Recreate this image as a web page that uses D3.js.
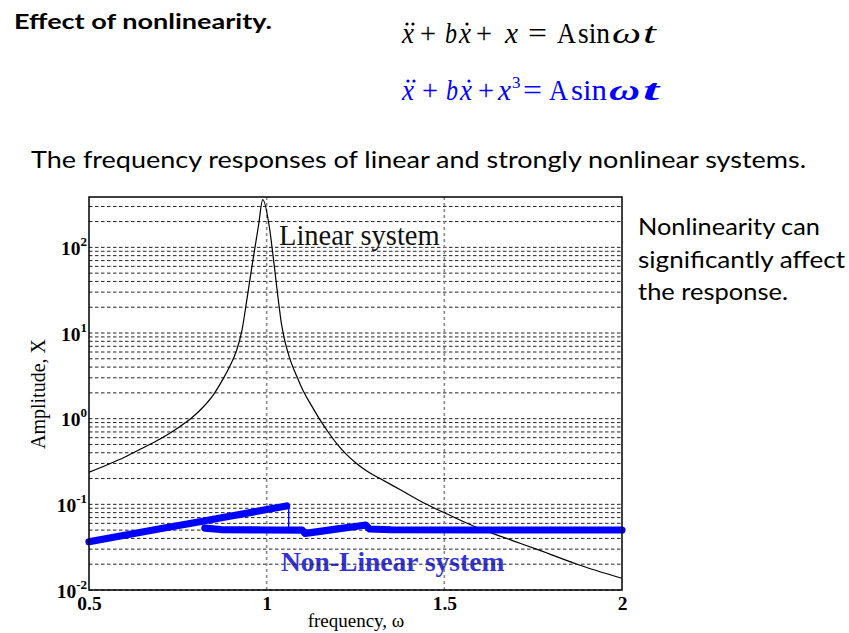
<!DOCTYPE html>
<html>
<head>
<meta charset="utf-8">
<script src="https://cdn.jsdelivr.net/npm/d3@7"></script>
<style>
  html, body { margin: 0; padding: 0; background: #fff; }
  svg { display: block; }
</style>
</head>
<body>
<svg id="chart" width="849" height="633"></svg>
<script>
// ---------------- data ----------------
const xTickValues = [0.5, 1, 1.5, 2];
const xTickLabels = ["0.5", "1", "1.5", "2"];
const yTickValues = [0.01, 0.1, 1, 10, 100];
const yTickExponents = ["-2", "-1", "0", "1", "2"];

// linear system response (frequency, amplitude)
const linW = [0.50, 0.55, 0.60, 0.65, 0.70, 0.75, 0.79, 0.82, 0.85, 0.875, 0.90, 0.915, 0.93, 0.944, 0.958, 0.977, 0.989,
              1.008, 1.020, 1.031, 1.042, 1.050, 1.064, 1.085, 1.103, 1.125, 1.148, 1.175, 1.199, 1.225, 1.253, 1.285,
              1.319, 1.38, 1.45, 1.52, 1.60, 1.69, 1.769, 1.873, 2.0];
const linX = [0.237, 0.288, 0.355, 0.452, 0.58, 0.78, 1.03, 1.35, 1.9, 2.8, 4.4, 6.2, 10.5, 24, 58, 180, 360,
              168, 68, 28, 12.5, 8.5, 5.2, 3.1, 2.1, 1.45, 1.0, 0.68, 0.50, 0.38, 0.30, 0.24,
              0.20, 0.145, 0.10, 0.073, 0.052, 0.038, 0.029, 0.020, 0.0137];

// nonlinear system: upper branch, jump, lower branch
const nlUpW = [0.5, 0.6, 0.7, 0.8, 0.9, 1.0, 1.056];
const nlUpX = [0.0366, 0.0436, 0.0518, 0.0615, 0.073, 0.0869, 0.0957];
const nlJumpW = [1.062, 1.062];
const nlJumpX = [0.0957, 0.0502];
const nlLowW = [0.826, 0.87, 1.0, 1.10, 1.108, 1.15, 1.20, 1.25, 1.278, 1.29, 1.35, 1.6, 1.8, 2.0];
const nlLowX = [0.0528, 0.0508, 0.0502, 0.0500, 0.0458, 0.0484, 0.0517, 0.0552, 0.0574, 0.0515, 0.0505, 0.0502, 0.0502, 0.0502];

// ---------------- layout ----------------
const svg = d3.select("#chart");
const L = 89, R = 622, T = 197, B = 590;
const x = d3.scaleLinear().domain([0.5, 2]).range([L, R]);
const y = d3.scaleLog().domain([0.01, 387]).range([B, T]);

const serif = "'Liberation Serif','Times New Roman',serif";
const sans = "Lato,'Open Sans',sans-serif";

// header texts
svg.append("text").attr("x", 14).attr("y", 29)
  .attr("font-family", sans).attr("font-weight", "bold").attr("font-size", 21.5)
  .attr("textLength", 258).attr("lengthAdjust", "spacingAndGlyphs")
  .text("Effect of nonlinearity.");

svg.append("text").attr("x", 31).attr("y", 168)
  .attr("font-family", sans).attr("font-size", 24)
  .attr("textLength", 775).attr("lengthAdjust", "spacingAndGlyphs")
  .text("The frequency responses of linear and strongly nonlinear systems.");

const sideLines = ["Nonlinearity can", "significantly affect", "the response."];
const sideWidths = [182, 207, 150];
const sideBase = [235, 268, 300];
sideLines.forEach((s, i) => {
  svg.append("text").attr("x", 638).attr("y", sideBase[i])
    .attr("font-family", sans).attr("font-size", 24)
    .attr("textLength", sideWidths[i]).attr("lengthAdjust", "spacingAndGlyphs")
    .text(s);
});

// equations: [text, x, style, width, dy, size]
function equation(tokens, dots, baseline, color) {
  const g = svg.append("g").attr("fill", color).attr("font-family", serif);
  tokens.forEach(t => {
    const el = g.append("text").attr("x", t[1]).attr("y", baseline + (t[4] || 0))
      .attr("font-style", t[2].includes("i") ? "italic" : "normal")
      .attr("font-weight", t[2].includes("b") ? "bold" : "normal")
      .attr("font-size", t[5] || 29.5)
      .text(t[0]);
    if (t[3]) el.attr("textLength", t[3]).attr("lengthAdjust", "spacingAndGlyphs");
  });
  g.selectAll("circle").data(dots).join("circle")
    .attr("cx", d => d).attr("cy", baseline - 19).attr("r", 1.6);
}
equation([
  ["x", 402, "i", 12], ["+", 420, "", 16], ["b", 445, "i", 12], ["x", 459, "i", 12], ["+", 476, "", 16],
  ["x", 505, "i", 13], ["=", 528, "", 19], ["A", 557, "", 19], ["sin", 578, "", 32], ["\u03c9", 612, "i", 29], ["t", 643, "i", 13]
], [407, 413, 467], 43, "#000");
equation([
  ["x", 402, "i", 12], ["+", 422, "", 16], ["b", 446, "i", 12], ["x", 460, "i", 12], ["+", 478, "", 16],
  ["x", 498, "i", 13], ["3", 512, "", 0, -12, 17], ["=", 523, "", 19], ["A", 549, "", 19], ["sin", 571, "", 36],
  ["\u03c9", 609, "ib", 31], ["t", 643, "ib", 16]
], [408, 414, 469], 100, "#0000ff");

// labels inside plot (under the grid)
svg.append("text").attr("x", 279).attr("y", 245)
  .attr("font-family", serif).attr("font-size", 28.5).attr("fill", "#111")
  .text("Linear system");
svg.append("text").attr("x", 281).attr("y", 571)
  .attr("font-family", serif).attr("font-weight", "bold").attr("font-size", 27.5).attr("fill", "#3333d4")
  .text("Non-Linear system");

// grid
const gridVals = [];
for (let d = -2; d <= 2; d++) for (let k = 1; k <= 9; k++) {
  const v = k * Math.pow(10, d);
  if (v <= 387) gridVals.push(v);
}
svg.append("g").selectAll("line").data(gridVals).join("line")
  .attr("x1", L).attr("x2", R).attr("y1", d => y(d)).attr("y2", d => y(d))
  .attr("stroke", "#222").attr("stroke-width", 1).attr("stroke-dasharray", "3.5,2.5");
svg.append("g").selectAll("line").data(xTickValues.slice(1, 3)).join("line")
  .attr("x1", d => x(d)).attr("x2", d => x(d)).attr("y1", T).attr("y2", B)
  .attr("stroke", "#888").attr("stroke-width", 1.6).attr("stroke-dasharray", "3,3");

// curves
const lineM = d3.line().x(d => x(d[0])).y(d => y(d[1])).curve(d3.curveMonotoneX);
svg.append("path").datum(linW.map((w, i) => [w, linX[i]]))
  .attr("d", lineM).attr("fill", "none")
  .attr("stroke", "#000").attr("stroke-width", 1.2);

const lineL = d3.line().x(d => x(d[0])).y(d => y(d[1])).curve(d3.curveLinear);
svg.append("path").datum(nlJumpW.map((w, i) => [w, nlJumpX[i]]))
  .attr("d", lineL).attr("fill", "none").attr("stroke", "#0000ff").attr("stroke-width", 1.4);
[[nlUpW, nlUpX], [nlLowW, nlLowX]].forEach(([ws, xs]) => {
  svg.append("path").datum(ws.map((w, i) => [w, xs[i]]))
    .attr("d", lineL).attr("fill", "none").attr("stroke", "#0000ff")
    .attr("stroke-width", 7.2).attr("stroke-linecap", "round").attr("stroke-linejoin", "round");
});

// frame
svg.append("rect").attr("x", L).attr("y", T).attr("width", R - L).attr("height", B - T)
  .attr("fill", "none").attr("stroke", "#000").attr("stroke-width", 1.5);

// axes (tick labels)
const xAxis = d3.axisBottom(x).tickValues(xTickValues).tickSize(0)
  .tickFormat((d, i) => xTickLabels[i]);
const gx = svg.append("g").attr("transform", `translate(0,${B})`).call(xAxis);
gx.select(".domain").remove();
gx.selectAll("text").attr("font-family", serif).attr("font-weight", "bold")
  .attr("font-size", 19.5).attr("fill", "#000").attr("dy", null).attr("y", 20);

const yAxis = d3.axisLeft(y).tickValues(yTickValues).tickSize(0).tickFormat(() => "");
const gy = svg.append("g").attr("transform", `translate(${L},0)`).call(yAxis);
gy.select(".domain").remove();
gy.selectAll(".tick text").each(function(d, i) {
  const t = d3.select(this).attr("x", -2).attr("dy", null).attr("y", 7)
    .attr("font-family", serif).attr("font-weight", "bold").attr("font-size", 19.5)
    .attr("fill", "#000").attr("text-anchor", "end");
  t.append("tspan").text("10");
  t.append("tspan").attr("dy", -9).attr("font-size", 13).text(yTickExponents[i]);
});

// axis titles
svg.append("text").attr("x", 356).attr("y", 627).attr("text-anchor", "middle")
  .attr("font-family", serif).attr("font-size", 19).text("frequency, \u03c9");
svg.append("text").attr("transform", "translate(45,394) rotate(-90)").attr("text-anchor", "middle")
  .attr("font-family", serif).attr("font-size", 20).text("Amplitude, X");
</script>
</body>
</html>
